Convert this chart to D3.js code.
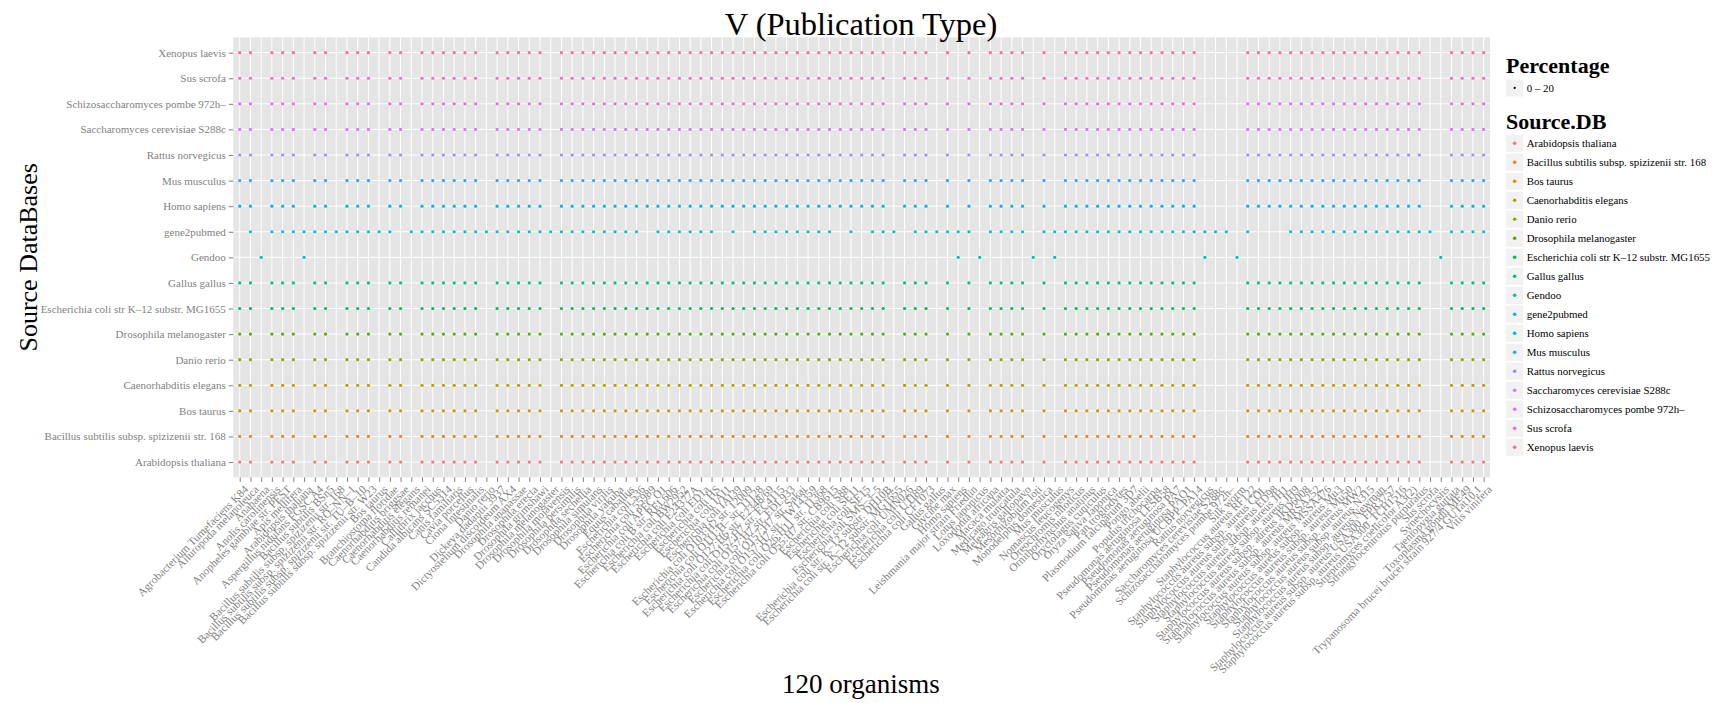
<!DOCTYPE html>
<html><head><meta charset="utf-8">
<script src="https://cdn.jsdelivr.net/npm/d3@7"></script>
<style>
body{margin:0;background:#fff}
svg{display:block}
text{font-family:"Liberation Serif","Times New Roman",serif}
</style>
</head><body>
<svg id="chart" width="1718" height="703"></svg>
<script>
// ---------------- data ----------------
const chartTitle = "V (Publication Type)";
const xTitle = "120 organisms";
const yTitle = "Source DataBases";

const organisms = [
"Agrobacterium Tumefaciens K84","Ailuropoda melanoleuca","Anabaena","Anolis carolinensis",
"Anopheles gambiae str. PEST","Apis mellifera","Arabidopsis thaliana","Aspergillus nidulans FGSC A4",
"Bacillus subtilis BSn5","Bacillus subtilis subsp. spizizenii str. 168","Bacillus subtilis subsp. spizizenii str. RO\u2013NN\u20131",
"Bacillus subtilis subsp. spizizenii str. TU\u2013B\u201310","Bacillus subtilis subsp. spizizenii str. W23","Bos taurus",
"Branchiostoma floridae","Caenorhabditis briggsae","Caenorhabditis elegans","Caenorhabditis remanei",
"Callithrix jacchus","Candida albicans SC5314","Canis familiaris","Cavia porcellus","Ciona intestinalis",
"Danio rerio","Dickeya dadantii 3937","Dictyostelium discoideum AX4","Drosophila ananassae","Drosophila erecta",
"Drosophila grimshawi","Drosophila melanogaster","Drosophila mojavensis","Drosophila persimilis",
"Drosophila sechellia","Drosophila simulans","Drosophila virilis","Drosophila yakuba","Equus caballus",
"Escherichia coli 536","Escherichia coli 55989","Escherichia coli APEC O1","Escherichia coli B str. REL606",
"Escherichia coli BW2952","Escherichia coli E24377A","Escherichia coli ED1a","Escherichia coli HS",
"Escherichia coli IAI1","Escherichia coli IAI39","Escherichia coli O103:H2 str. 12009",
"Escherichia coli O111:H\u2013 str. 11128","Escherichia coli O127:H6 str. E2348/69",
"Escherichia coli O157:H7 str. EC4115","Escherichia coli O157:H7 str. EDL933","Escherichia coli O157:H7 str. Sakai",
"Escherichia coli O157:H7 str. TW14359","Escherichia coli O26:H11 str. 11368","Escherichia coli O55:H7 str. CB9615",
"Escherichia coli S88","Escherichia coli SE11","Escherichia coli SE15","Escherichia coli SMS\u20133\u20135",
"Escherichia coli str. K\u201312 substr. DH10B","Escherichia coli str. K\u201312 substr. MG1655",
"Escherichia coli UMN026","Escherichia coli UTI89","Escherichia coli CFT073","Gallus gallus","Glycine max",
"Homo sapiens","Leishmania major strain Friedlin","Lotus japonicus","Loxodonta africana","Macaca mulatta",
"Medicago truncatula","Meleagris gallopavo","Mesorhizobium loti","Monodelphis domestica","Mus musculus",
"Nomascus leucogenys","Oreochromis niloticus","Ornithorhynchus anatinus","Oryctolagus cuniculus",
"Oryza sativa Japonica","Pan troglodytes","Plasmodium falciparum 3D7","Pongo abelii","Populus trichocarpa",
"Pseudomonas aeruginosa LESB58","Pseudomonas aeruginosa PA7","Pseudomonas aeruginosa PAO1",
"Pseudomonas aeruginosa UCBPP\u2013PA14","Rattus norvegicus","Saccharomyces cerevisiae S288c",
"Schizosaccharomyces pombe 972h\u2013","Silk worm","Staphylococcus aureus RF122",
"Staphylococcus aureus subsp. aureus COL","Staphylococcus aureus subsp. aureus ED98",
"Staphylococcus aureus subsp. aureus JH1","Staphylococcus aureus subsp. aureus JH9",
"Staphylococcus aureus subsp. aureus JKD6008","Staphylococcus aureus subsp. aureus MRSA252",
"Staphylococcus aureus subsp. aureus MSSA476","Staphylococcus aureus subsp. aureus Mu3",
"Staphylococcus aureus subsp. aureus Mu50","Staphylococcus aureus subsp. aureus MW2",
"Staphylococcus aureus subsp. aureus N315","Staphylococcus aureus subsp. aureus Newman",
"Staphylococcus aureus subsp. aureus USA300_FPR3757","Staphylococcus aureus subsp. aureus USA300_TCH1516",
"Streptomyces coelicolor A3(2)","Strongylocentrotus purpuratus","Sus scrofa","Synechocystis",
"Taeniopygia guttata","Toxoplasma gondii ME49","Trypanosoma brucei brucei strain 927/4 GUTat10.1","Vitis vinifera"
];

const sourceDBs = [
"Arabidopsis thaliana","Bacillus subtilis subsp. spizizenii str. 168","Bos taurus","Caenorhabditis elegans",
"Danio rerio","Drosophila melanogaster","Escherichia coli str K\u201312 substr. MG1655","Gallus gallus","Gendoo",
"gene2pubmed","Homo sapiens","Mus musculus","Rattus norvegicus","Saccharomyces cerevisiae S288c",
"Schizosaccharomyces pombe 972h\u2013","Sus scrofa","Xenopus laevis"
];

// presence of a publication-type record (Percentage bin 0-20), one flag per organism (in order above)
const sharedPresence =       // the 15 organism databases
  "1101110110"+"1110110111"+"1110111110"+"1111111111"+"1111111111"+"1111111111"+
  "1011101010"+"1111010111"+"1111111111"+"0000111111"+"1111111111"+"1001111";
const gene2pubmedPresence =
  "0101111111"+"1111101111"+"1111111111"+"1111111101"+"1111101011"+"1111110101"+
  "1101111110"+"1111011111"+"1111111111"+"1110100011"+"1111111111"+"1101111";
const gendooPresence =
  "0010001000"+"0000000000"+"0000000000"+"0000000000"+"0000000000"+"0000000000"+
  "0000000101"+"0000101000"+"0000000000"+"1001000000"+"0000000000"+"0010000";

const percentageBins = ["0 \u2013 20"];

// ---------------- helpers ----------------
function hclLuv(h, c, l){ // R's hcl() (polar LUV) -> sRGB hex
  const hr = h*Math.PI/180, U = c*Math.cos(hr), V = c*Math.sin(hr);
  const Xn=95.047, Yn=100, Zn=108.883;
  const un = 4*Xn/(Xn+15*Yn+3*Zn), vn = 9*Yn/(Xn+15*Yn+3*Zn);
  const Y = l>8 ? Yn*Math.pow((l+16)/116,3) : Yn*l/903.3;
  const u = U/(13*l)+un, v = V/(13*l)+vn;
  const X = 9*Y*u/(4*v), Z = -X/3 - 5*Y + 3*Y/v;
  const x=X/100, y=Y/100, z=Z/100;
  const lin = [3.2404542*x-1.5371385*y-0.4985314*z, -0.9692660*x+1.8760108*y+0.0415560*z, 0.0556434*x-0.2040259*y+1.0572252*z];
  const g = lin.map(t=>{t=t<=0.0031308?12.92*t:1.055*Math.pow(t,1/2.4)-0.055; return Math.round(Math.max(0,Math.min(1,t))*255);});
  return d3.rgb(g[0],g[1],g[2]).formatHex();
}

const presenceFor = db => db==="gene2pubmed" ? gene2pubmedPresence : (db==="Gendoo" ? gendooPresence : sharedPresence);
const points = [];
sourceDBs.forEach(db=>{
  const p = presenceFor(db);
  organisms.forEach((o,i)=>{ if(p[i]==="1") points.push({db, org:o, bin:percentageBins[0]}); });
});

// ---------------- layout ----------------
const svg = d3.select("#chart");
const panel = {left:233.3, right:1490.1, top:37.3, bottom:477.4};
const x = d3.scalePoint().domain(organisms).range([panel.left, panel.right]).padding(0.6);
const y = d3.scalePoint().domain(sourceDBs).range([panel.bottom, panel.top]).padding(0.6);
const color = d3.scaleOrdinal().domain(sourceDBs)
  .range(sourceDBs.map((d,i)=>hclLuv(15+i*360/sourceDBs.length, 100, 65)));
const size = d3.scaleOrdinal().domain(percentageBins).range([1.6]);

const grey50 = "#7f7f7f";

svg.append("rect").attr("x",panel.left).attr("y",panel.top)
  .attr("width",panel.right-panel.left).attr("height",panel.bottom-panel.top).attr("fill","#e5e5e5");

// grid lines
svg.append("g").selectAll("line").data(organisms).join("line")
  .attr("x1",d=>x(d)).attr("x2",d=>x(d)).attr("y1",panel.top).attr("y2",panel.bottom)
  .attr("stroke","#fff").attr("stroke-width",1);
svg.append("g").selectAll("line").data(sourceDBs).join("line")
  .attr("y1",d=>y(d)).attr("y2",d=>y(d)).attr("x1",panel.left).attr("x2",panel.right)
  .attr("stroke","#fff").attr("stroke-width",1);

// points
svg.append("g").selectAll("circle").data(points).join("circle")
  .attr("cx",d=>x(d.org)).attr("cy",d=>y(d.db)).attr("r",d=>size(d.bin))
  .attr("fill",d=>color(d.db));

// axes
const yAxis = d3.axisLeft(y).tickSize(4.5).tickPadding(3);
const gy = svg.append("g").attr("transform",`translate(${panel.left},0)`).call(yAxis);
gy.select(".domain").remove();
gy.selectAll("line").attr("stroke",grey50);
gy.selectAll("text").attr("fill",grey50).style("font-size","11px").style("font-family","Liberation Serif");

const xAxis = d3.axisBottom(x).tickSize(4.5).tickPadding(2);
const gx = svg.append("g").attr("transform",`translate(0,${panel.bottom})`).call(xAxis);
gx.select(".domain").remove();
gx.selectAll("line").attr("stroke",grey50);
gx.selectAll("text").attr("fill",grey50).style("font-size","11.3px").style("font-family","Liberation Serif")
  .attr("text-anchor","end").attr("dy",null).attr("y",null)
  .attr("transform","translate(3,7) rotate(-45)").attr("dy","0.71em");

// titles
svg.append("text").attr("x",861).attr("y",35).attr("text-anchor","middle")
  .style("font-size","32.5px").text(chartTitle);
svg.append("text").attr("x",861).attr("y",693).attr("text-anchor","middle")
  .style("font-size","27px").text(xTitle);
svg.append("text").attr("transform",`translate(37,${(panel.top+panel.bottom)/2}) rotate(-90)`)
  .attr("text-anchor","middle").style("font-size","26px").text(yTitle);

// legends
const legendFont = "10.9px";
const lg = svg.append("g").attr("transform","translate(1506,0)");
lg.append("text").attr("x",0).attr("y",72.5).style("font-size","22px").style("font-weight","bold").text("Percentage");
const pk = lg.append("g").selectAll("g").data(percentageBins).join("g").attr("transform",(d,i)=>`translate(0,${79.3+i*19})`);
pk.append("rect").attr("width",17.3).attr("height",17.3).attr("fill","#f2f2f2");
pk.append("circle").attr("cx",8.65).attr("cy",8.65).attr("r",1.1).attr("fill","#000");
pk.append("text").attr("x",20.7).attr("y",8.65).attr("dy","0.35em").style("font-size",legendFont).text(d=>d);

lg.append("text").attr("x",0).attr("y",129.3).style("font-size","22px").style("font-weight","bold").text("Source.DB");
const sk = lg.append("g").selectAll("g").data(sourceDBs).join("g").attr("transform",(d,i)=>`translate(0,${134.6+i*19})`);
sk.append("rect").attr("width",17.3).attr("height",17.3).attr("fill","#f2f2f2");
sk.append("circle").attr("cx",8.65).attr("cy",8.65).attr("r",1.8).attr("fill",d=>color(d));
sk.append("text").attr("x",20.7).attr("y",8.65).attr("dy","0.35em").style("font-size",legendFont).text(d=>d);
</script>
</body></html>
